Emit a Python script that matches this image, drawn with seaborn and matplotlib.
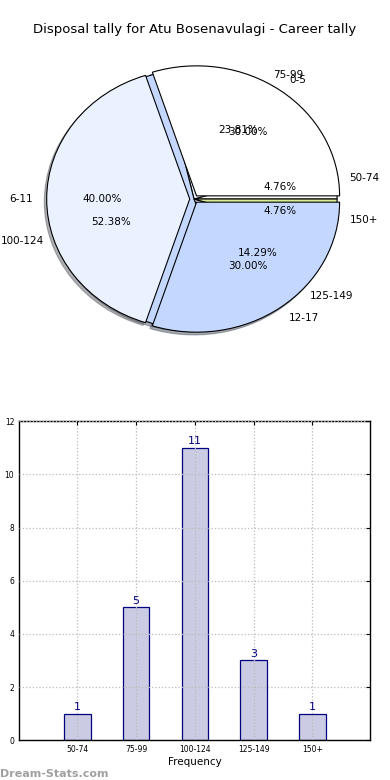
import numpy as np
import pandas as pd
import matplotlib
matplotlib.use("Agg")
import matplotlib.pyplot as plt
import seaborn as sns

# data
kick_bins = ["0-5", "6-11", "12-17"]
kick_pct = [30.0, 40.0, 30.0]

disp_bins = ["50-74", "75-99", "100-124", "125-149", "150+"]
disp_counts = [1, 5, 11, 3, 1]

title = "Disposal tally for Atu Bosenavulagi - Career tally"

sns.set_style("white")
plt.rcParams["font.family"] = ["DejaVu Sans"]
plt.rcParams["text.color"] = "black"
plt.rcParams["axes.labelcolor"] = "black"
plt.rcParams["xtick.color"] = "black"
plt.rcParams["ytick.color"] = "black"

fig = plt.figure(figsize=(3.9, 7.8), dpi=100)

# --- pie (two pies stacked, as in the original) ---
ax1 = fig.add_axes([0.039, 0.5365, 0.917, 0.4167])
wp = dict(edgecolor="black", linewidth=0.8)
shadow = dict(ox=-0.012, oy=-0.015, shade=0.6)
ax1.pie(disp_counts, labels=disp_bins, autopct="%1.2f%%", pctdistance=0.61,
        labeldistance=1.1, shadow=shadow,
        colors=["#ffffff", "#ebf2ff", "#c4d8ff", "#e8e8ff", "#d6ee96"],
        wedgeprops=wp, textprops=dict(fontsize=7.5))
ax1.pie(kick_pct, labels=kick_bins, autopct="%1.2f%%", pctdistance=0.61,
        labeldistance=1.1, shadow=shadow, explode=[0.03, 0.03, 0.03],
        colors=["#ffffff", "#ebf2ff", "#c4d8ff"],
        wedgeprops=wp, textprops=dict(fontsize=7.5))
ax1.set_aspect("auto")
ax1.set_xlim(-1.25, 1.25)
ax1.set_ylim(-1.25, 1.25)
ax1.axis("off")

fig.text(0.5, 0.962, title, ha="center", va="center", fontsize=9.5)

# --- bar chart ---
ax2 = fig.add_axes([0.049, 0.051, 0.9, 0.409])
df = pd.DataFrame({"bin": disp_bins, "count": disp_counts})
sns.barplot(data=df, x="bin", y="count", color="#cbcce3", edgecolor="#000080",
            linewidth=0.9, width=0.45, saturation=1, ax=ax2)
ax2.bar_label(ax2.containers[0], color="#000080", fontsize=8, padding=1)
ax2.set_xlim(-0.99, 4.98)
ax2.set_ylim(0, 12)
ax2.set_yticks(np.arange(0, 13, 2))
ax2.tick_params(labelsize=5.5, length=3, direction="in", top=True, right=True)
ax2.grid(True, linestyle=":", color="#bbbbbb", linewidth=0.9)
ax2.set_axisbelow(False)
for s in ax2.spines.values():
    s.set_linewidth(1)
    s.set_color("black")
ax2.set_xlabel("Frequency", fontsize=7.5, labelpad=2)
ax2.set_ylabel("Disposal Tally", fontsize=7)
ax2.yaxis.set_label_coords(-0.055, 0.5)

fig.text(0.0, 0.004, "Dream-Stats.com", color="#a0a0a0", fontsize=8, fontweight="bold")

fig.savefig("out.png", dpi=100)
